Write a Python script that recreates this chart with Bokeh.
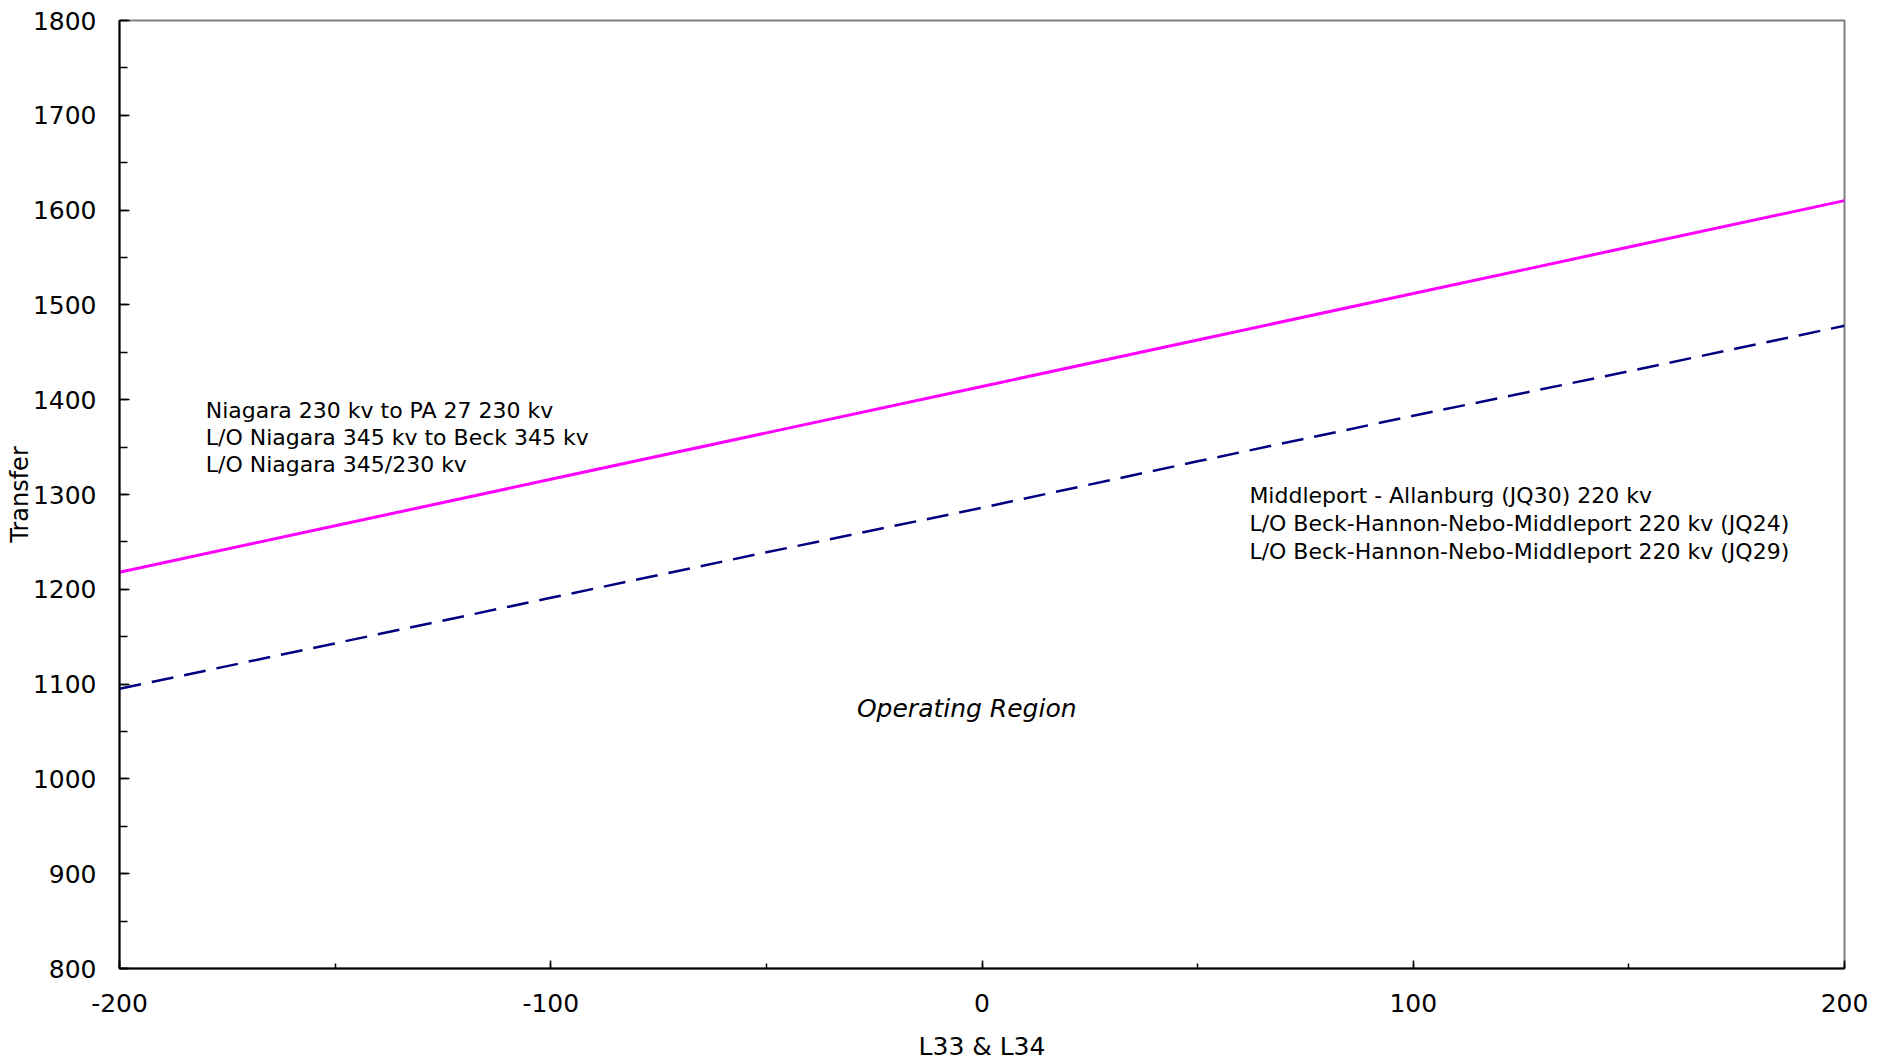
from bokeh.plotting import figure
from bokeh.models import Label, SingleIntervalTicker, Range1d, CustomJSTickFormatter
from bokeh.embed import file_html
from bokeh.resources import INLINE

# Data
x_vals = [-200, -150, -100, -50, 0, 50, 100, 150, 200]
niagara_limit = [1218, 1267, 1316, 1365, 1414, 1463, 1512, 1561, 1610]
middleport_limit = [1095, 1143, 1191, 1239, 1286, 1335, 1383, 1430, 1478]

niagara_text = ["Niagara 230 kv to PA 27 230 kv",
                "L/O Niagara 345 kv to Beck 345 kv",
                "L/O Niagara 345/230 kv"]
middleport_text = ["Middleport - Allanburg  (JQ30) 220 kv",
                   "L/O Beck-Hannon-Nebo-Middleport 220 kv (JQ24)",
                   "L/O Beck-Hannon-Nebo-Middleport 220 kv (JQ29)"]
region_text = "Operating Region"
x_label = "L33 & L34"
y_label = "Transfer"

FONT = "DejaVu Sans"

p = figure(width=1885, height=1063, output_backend="svg", toolbar_location=None,
           x_range=Range1d(-200, 200), y_range=Range1d(800, 1800),
           min_border_left=119, min_border_right=41, min_border_top=20, min_border_bottom=94)
p.background_fill_color = "white"
p.border_fill_color = "white"
p.outline_line_color = "#808080"
p.outline_line_width = 2
p.xgrid.grid_line_color = None
p.ygrid.grid_line_color = None

p.xaxis.ticker = SingleIntervalTicker(interval=100, num_minor_ticks=2)
p.yaxis.ticker = SingleIntervalTicker(interval=100, num_minor_ticks=2)
p.xaxis.formatter = CustomJSTickFormatter(code="return tick.toFixed(0);")
p.yaxis.formatter = CustomJSTickFormatter(code="return tick.toFixed(0);")

for ax in (p.xaxis, p.yaxis):
    ax.axis_line_color = "black"
    ax.axis_line_width = 2
    ax.major_tick_line_color = "black"
    ax.minor_tick_line_color = "black"
    ax.major_tick_line_width = 1.5
    ax.minor_tick_line_width = 1.5
    ax.major_tick_out = 0
    ax.minor_tick_out = 0
    ax.major_label_text_font = FONT
    ax.major_label_text_font_size = "25px"
    ax.major_label_text_color = "black"
    ax.axis_label_text_font = FONT
    ax.axis_label_text_font_style = "normal"
    ax.axis_label_text_color = "black"

p.yaxis.major_tick_in = 10
p.yaxis.minor_tick_in = 8
p.xaxis.major_tick_in = 8
p.xaxis.minor_tick_in = 5

p.xaxis.axis_label = x_label
p.yaxis.axis_label = y_label
p.xaxis.axis_label_text_font_size = "25px"
p.yaxis.axis_label_text_font_size = "24px"
p.yaxis.major_label_standoff = 23
p.yaxis.axis_label_standoff = -4
p.xaxis.major_label_standoff = 25
p.xaxis.axis_label_standoff = 17

p.line(x_vals, middleport_limit, line_color="#000080", line_width=2.5, line_dash="22 11")
p.line(x_vals, niagara_limit, line_color="#FF00FF", line_width=3)

for i, t in enumerate(niagara_text):
    p.add_layout(Label(x=-180.0, y=1389 - 28.6 * i, text=t, text_font=FONT,
                       text_font_size="22px", text_color="black",
                       text_baseline="alphabetic", text_align="left"))
for i, t in enumerate(middleport_text):
    p.add_layout(Label(x=62.0, y=1298.5 - 29.2 * i, text=t, text_font=FONT,
                       text_font_size="22px", text_color="black",
                       text_baseline="alphabetic", text_align="left"))
p.add_layout(Label(x=-29.0, y=1074, text=region_text, text_font=FONT,
                   text_font_size="25px", text_font_style="italic", text_color="black",
                   text_baseline="alphabetic", text_align="left"))

open("out.html", "w").write(file_html(p, INLINE))
